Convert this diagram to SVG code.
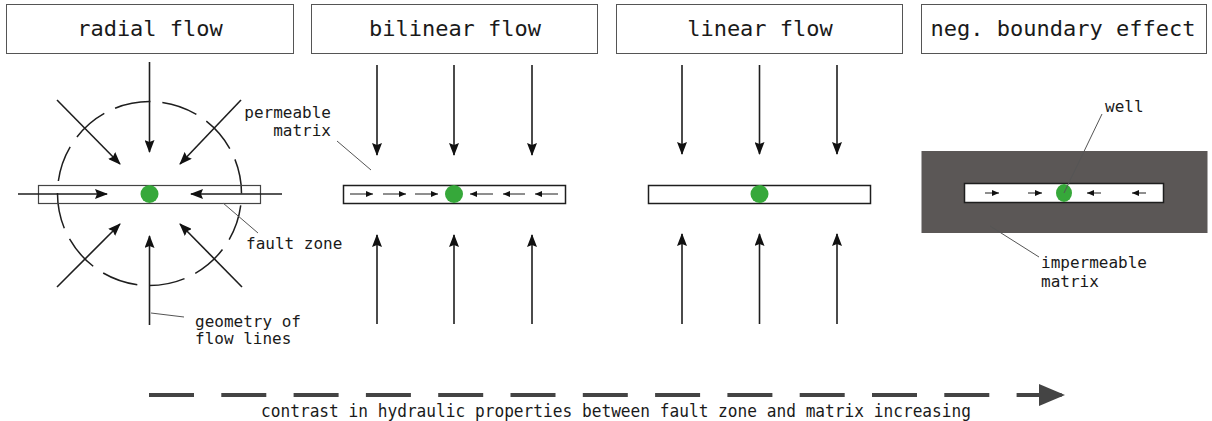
<svg xmlns="http://www.w3.org/2000/svg" width="1212" height="421" viewBox="0 0 1212 421">
  <style>
    .title-box { fill: #ffffff; stroke: #555555; stroke-width: 1; }
    .title { font-family: "DejaVu Sans Mono", "Liberation Mono", monospace; font-size: 22px; fill: #1a1a1a; text-anchor: middle; }
    .label { font-family: "DejaVu Sans Mono", "Liberation Mono", monospace; font-size: 16px; fill: #1a1a1a; }
    .flow { stroke: #1e1e1e; stroke-width: 1.6; fill: none; marker-end: url(#head); }
    .flow-small { stroke: #1e1e1e; stroke-width: 1; fill: none; marker-end: url(#head-small); }
    .zone { fill: #ffffff; stroke: #1e1e1e; stroke-width: 1.5; }
    .zone-thin { fill: none; stroke: #444444; stroke-width: 1.2; }
    .well { fill: #36a83a; }
    .leader { stroke: #555555; stroke-width: 1; fill: none; }
  </style>
  <defs>
    <marker id="head" markerUnits="userSpaceOnUse" markerWidth="13" markerHeight="10" refX="12" refY="5" orient="auto">
      <path d="M0,0 L13,5 L0,10 L2,5 z" fill="#111111"/>
    </marker>
    <marker id="head-small" markerUnits="userSpaceOnUse" markerWidth="7" markerHeight="6" refX="7" refY="3" orient="auto">
      <path d="M0,0 L7,3 L0,6 z" fill="#111111"/>
    </marker>
    <marker id="head-big" markerUnits="userSpaceOnUse" markerWidth="26" markerHeight="22" refX="25" refY="11" orient="auto">
      <path d="M0,0 L26,11 L0,22 z" fill="#444444"/>
    </marker>
  </defs>

  <!-- panel headings -->
  <g id="title-radial">
    <rect class="title-box" x="6.5" y="4.5" width="287" height="49"/>
    <text class="title" x="150" y="36">radial flow</text>
  </g>
  <g id="title-bilinear">
    <rect class="title-box" x="311.5" y="4.5" width="286" height="49"/>
    <text class="title" x="455" y="36">bilinear flow</text>
  </g>
  <g id="title-linear">
    <rect class="title-box" x="616.5" y="4.5" width="286" height="49"/>
    <text class="title" x="760" y="36">linear flow</text>
  </g>
  <g id="title-boundary">
    <rect class="title-box" x="921.5" y="4.5" width="285" height="49"/>
    <text class="title" x="1063" y="36">neg. boundary effect</text>
  </g>

  <!-- radial flow -->
  <g id="radial">
    <circle cx="149.5" cy="193.5" r="92" fill="none" stroke="#1e1e1e" stroke-width="1.5" stroke-dasharray="36.2 12" stroke-dashoffset="-12"/>
    <rect class="zone-thin" x="38.5" y="185.5" width="222" height="18"/>
    <circle class="well" cx="149.5" cy="194" r="9"/>
  </g>

  <!-- bilinear flow -->
  <g id="bilinear">
    <rect class="zone" x="343.5" y="185.5" width="222" height="18"/>
    <circle class="well" cx="454" cy="194" r="9"/>
  </g>

  <!-- linear flow -->
  <g id="linear">
    <rect class="zone" x="648.5" y="185.5" width="222" height="18"/>
    <circle class="well" cx="759.5" cy="194" r="9"/>
  </g>

  <!-- negative boundary effect -->
  <g id="boundary">
    <rect x="921.5" y="151" width="286" height="82" fill="#5b5756"/>
    <rect x="964.5" y="183.5" width="199" height="19" fill="#ffffff" stroke="#1e1e1e" stroke-width="1.5"/>
    <ellipse class="well" cx="1064" cy="193" rx="8" ry="9"/>
  </g>

  <!-- flow lines -->
  <g id="connectors">
    <!-- radial -->
    <line class="flow" x1="149.5" y1="62" x2="149.5" y2="152"/>
    <line class="flow" x1="149.5" y1="325" x2="149.5" y2="236"/>
    <line class="flow" x1="18" y1="194" x2="107" y2="194"/>
    <line class="flow" x1="282" y1="194" x2="191" y2="194"/>
    <line class="flow" x1="57" y1="100" x2="120" y2="164"/>
    <line class="flow" x1="241" y1="100" x2="180" y2="164"/>
    <line class="flow" x1="57" y1="287" x2="120" y2="224"/>
    <line class="flow" x1="242" y1="287" x2="180" y2="224"/>

    <!-- bilinear -->
    <line class="flow" x1="377" y1="65" x2="377" y2="155"/>
    <line class="flow" x1="454" y1="65" x2="454" y2="155"/>
    <line class="flow" x1="532" y1="65" x2="532" y2="155"/>
    <line class="flow" x1="377" y1="324" x2="377" y2="235"/>
    <line class="flow" x1="454" y1="324" x2="454" y2="235"/>
    <line class="flow" x1="532" y1="324" x2="532" y2="235"/>
    <line class="flow-small" x1="350" y1="194" x2="373" y2="194"/>
    <line class="flow-small" x1="383" y1="194" x2="406" y2="194"/>
    <line class="flow-small" x1="415" y1="194" x2="438" y2="194"/>
    <line class="flow-small" x1="493" y1="194" x2="470" y2="194"/>
    <line class="flow-small" x1="525" y1="194" x2="503" y2="194"/>
    <line class="flow-small" x1="558" y1="194" x2="535" y2="194"/>

    <!-- linear -->
    <line class="flow" x1="682" y1="65" x2="682" y2="154"/>
    <line class="flow" x1="759.5" y1="65" x2="759.5" y2="154"/>
    <line class="flow" x1="837" y1="65" x2="837" y2="154"/>
    <line class="flow" x1="682" y1="324" x2="682" y2="234"/>
    <line class="flow" x1="759.5" y1="324" x2="759.5" y2="234"/>
    <line class="flow" x1="837" y1="324" x2="837" y2="234"/>

    <!-- boundary -->
    <line class="flow-small" x1="985" y1="193" x2="999" y2="193"/>
    <line class="flow-small" x1="1028" y1="193" x2="1042" y2="193"/>
    <line class="flow-small" x1="1101" y1="193" x2="1087" y2="193"/>
    <line class="flow-small" x1="1146" y1="193" x2="1132" y2="193"/>

    <!-- leader lines -->
    <line class="leader" x1="223" y1="203" x2="258" y2="233"/>
    <line class="leader" x1="151" y1="313" x2="184" y2="317"/>
    <line class="leader" x1="337" y1="141" x2="371" y2="170"/>
    <line class="leader" x1="1102" y1="114" x2="1064" y2="193"/>
    <line class="leader" x1="990" y1="226" x2="1039" y2="257"/>

    <!-- trend arrow -->
    <line x1="149" y1="395" x2="1064" y2="395" stroke="#444444" stroke-width="4" stroke-dasharray="45 27.3" marker-end="url(#head-big)"/>
  </g>

  <!-- annotations -->
  <g id="annotations">
    <text class="label" x="331" y="118" text-anchor="end">permeable</text>
    <text class="label" x="331" y="136" text-anchor="end">matrix</text>
    <text class="label" x="246" y="249">fault zone</text>
    <text class="label" x="195" y="327">geometry of</text>
    <text class="label" x="195" y="344">flow lines</text>
    <text class="label" x="1105" y="112">well</text>
    <text class="label" x="1041" y="268">impermeable</text>
    <text class="label" x="1041" y="287">matrix</text>
    <text x="261" y="417" font-family="DejaVu Sans Mono, Liberation Mono, monospace" font-size="18" fill="#1a1a1a" textLength="710" lengthAdjust="spacingAndGlyphs">contrast in hydraulic properties between fault zone and matrix increasing</text>
  </g>
</svg>
